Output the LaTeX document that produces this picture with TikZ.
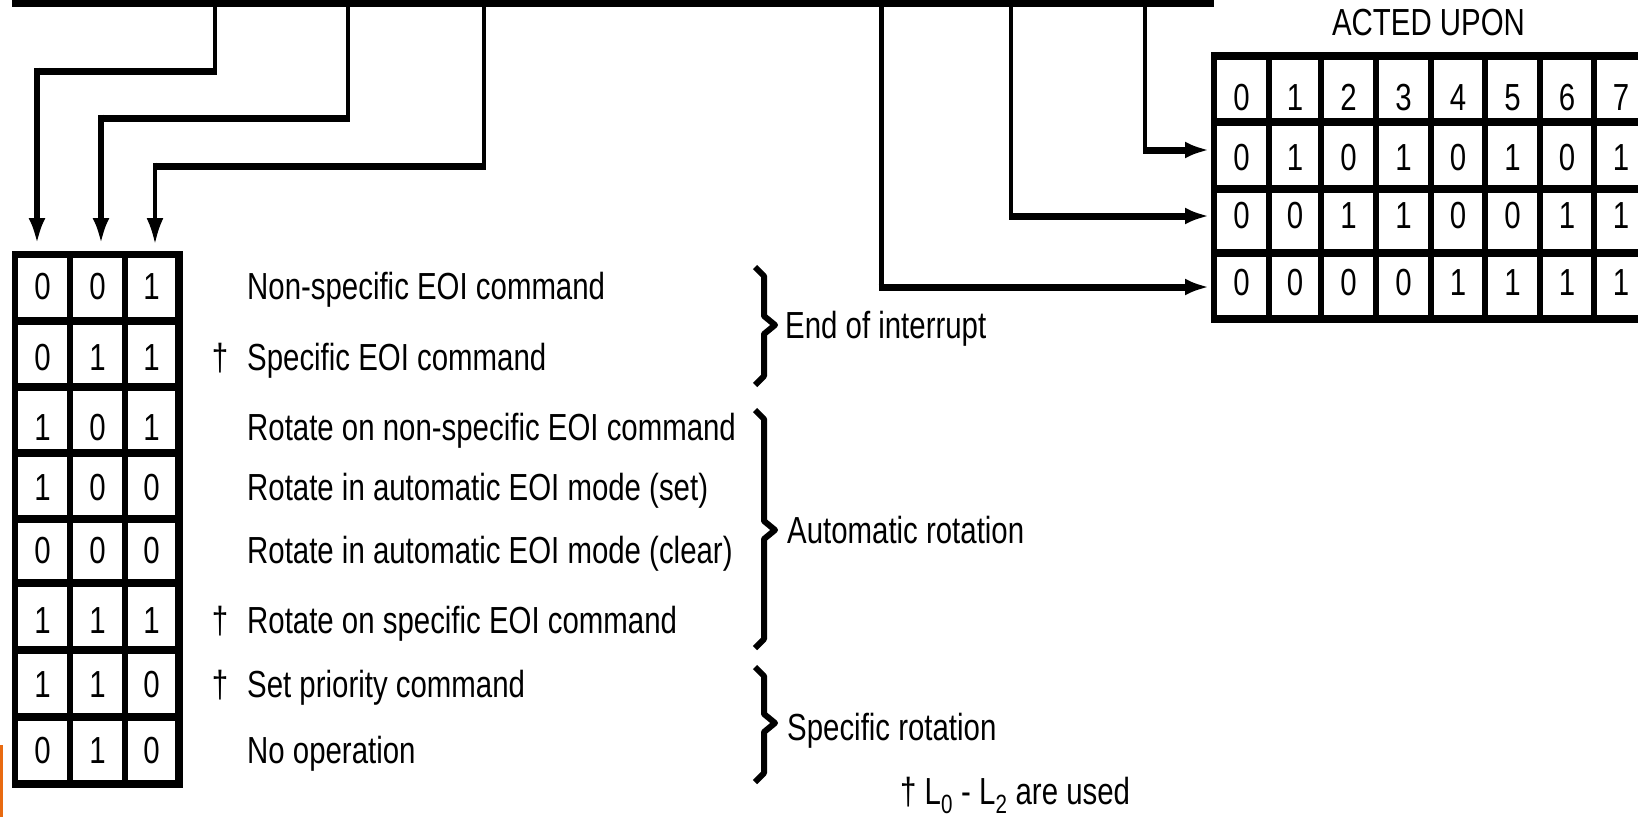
\documentclass[tikz,border=0pt]{standalone}
\usepackage{fontspec}
\setmainfont{Liberation Sans}[FakeStretch=0.78]
\usetikzlibrary{arrows.meta}
\definecolor{orangebar}{RGB}{232,106,16}
\begin{document}
\begin{tikzpicture}[x=1pt,y=-1pt,
  every node/.style={inner sep=0pt,font=\fontsize{37.7}{40}\selectfont},
  bus/.style={line width=7pt},
  thinw/.style={line width=3.4pt},
  midw/.style={line width=5pt},
  thickw/.style={line width=7pt,line join=miter},
  downw/.style={line width=6pt,line join=miter},
  tipdown/.style={-{Latex[length=26pt,width=17pt]}},
  tipright/.style={-{Latex[length=24pt,width=17pt]}},
  gridh/.style={line width=7.5pt},
  gridv/.style={line width=6pt},
  brace/.style={line width=6pt,line join=round},
  dig/.style={anchor=base},
  lbl/.style={anchor=base west},
  dag/.style={anchor=base},
]
\useasboundingbox (0,0) rectangle (1638,817);
\clip (0,0) rectangle (1638,817);

% orange edge
\fill[orangebar] (0,745) rectangle (3,817);

% top bus
\coordinate (busL) at (12,3.5);
\coordinate (busR) at (1214,3.5);
\draw[bus] (busL) -- (busR);

% connector coordinates
\coordinate (b1) at (215,3.5);
\coordinate (b2) at (348,3.5);
\coordinate (b3) at (484,3.5);
\coordinate (b4) at (881,3.5);
\coordinate (b5) at (1011,3.5);
\coordinate (b6) at (1145,3.5);
\coordinate (k1) at (215,71);
\coordinate (k2) at (348,118);
\coordinate (k3) at (484,166);
\coordinate (k4) at (881,287);
\coordinate (k5) at (1011,216);
\coordinate (k6) at (1145,150);
\coordinate (a1) at (37,244);
\coordinate (a2) at (101,244);
\coordinate (a3) at (155,244);
\coordinate (a4) at (1209,287);
\coordinate (a5) at (1209,216);
\coordinate (a6) at (1209,150);

% left connectors
\draw[thinw] (b1) -- ([yshift=-3.5pt]k1);
\draw[thickw] (k1) -- ([xshift=-3pt]k1 -| a1);
\draw[downw,tipdown] ([yshift=3.5pt]k1 -| a1) -- (a1);
\draw[thinw] (b2) -- ([yshift=-3.5pt]k2);
\draw[thickw] (k2) -- ([xshift=-3pt]k2 -| a2);
\draw[downw,tipdown] ([yshift=3.5pt]k2 -| a2) -- (a2);
\draw[thinw] (b3) -- ([yshift=-3.5pt]k3);
\draw[thickw] (k3) -- ([xshift=-1.7pt]k3 -| a3);
\draw[thinw,tipdown] ([yshift=3.5pt]k3 -| a3) -- (a3);

% right connectors
\draw[midw] (b4) -- ([yshift=-3.5pt]k4);
\draw[thickw,tipright] ([xshift=-2.5pt]k4) -- (a4);
\draw[thinw] (b5) -- ([yshift=-3.5pt]k5);
\draw[thickw,tipright] ([xshift=-1.7pt]k5) -- (a5);
\draw[thinw] (b6) -- ([yshift=-3.5pt]k6);
\draw[thickw,tipright] ([xshift=-1.7pt]k6) -- (a6);

% left table grid
\foreach \y in {254.5,321,387,453,519,583,650,717,784}
  \draw[gridh] (12,\y) -- (183,\y);
\draw[gridv] (15,251) -- (15,788);
\draw[gridv] (70,251) -- (70,788);
\draw[gridv] (125,251) -- (125,788);
\draw[line width=8pt] (178.5,251) -- (178.5,788);

% left table digits
\foreach \r/\y/\p/\q/\s in {1/299/0/0/1, 2/370/0/1/1, 3/440/1/0/1, 4/500/1/0/0,
                            5/563/0/0/0, 6/633/1/1/1, 7/697/1/1/0, 8/763/0/1/0} {
  \node[dig] (l\r a) at (42.5,\y) {\p};
  \node[dig] (l\r b) at (97.5,\y) {\q};
  \node[dig] (l\r c) at (151.5,\y) {\s};
}

% left descriptions
\node[lbl] (t1) at (247,299) {Non-specific EOI command};
\node[lbl] (t2) at (247,370) {Specific EOI command};
\node[lbl] (t3) at (247,440) {Rotate on non-specific EOI command};
\node[lbl] (t4) at (247,500) {Rotate in automatic EOI mode (set)};
\node[lbl] (t5) at (247,563) {Rotate in automatic EOI mode (clear)};
\node[lbl] (t6) at (247,633) {Rotate on specific EOI command};
\node[lbl] (t7) at (247,697) {Set priority command};
\node[lbl] (t8) at (247,763) {No operation};
\node[dag] (d2) at (220,370) {†};
\node[dag] (d6) at (220,633) {†};
\node[dag] (d7) at (220,697) {†};

% braces
\draw[brace] (755,267) -- (764,276) -- (764,316) -- (775,325) -- (764,334) -- (764,376) -- (755,385);
\draw[brace] (755,410) -- (764,419) -- (764,521) -- (775,530) -- (764,539) -- (764,639) -- (755,648);
\draw[brace] (755,667) -- (764,676) -- (764,714) -- (775,723) -- (764,732) -- (764,773) -- (755,782);
\node[lbl] (g1) at (785,338) {End of interrupt};
\node[lbl] (g2) at (787,543) {Automatic rotation};
\node[lbl] (g3) at (787,740) {Specific rotation};

% footnote
\node[lbl] (fn) at (900,804) {† L\textsubscript{0} - L\textsubscript{2} are used};

% right table
\node[dig] (acted) at (1428.5,35) {ACTED UPON};
\foreach \y in {55.5,121.5,188.5,252.5,319}
  \draw[line width=8pt] (1211,\y) -- (1660,\y);
\foreach \x in {1214,1269,1321,1376,1431,1485,1540,1594,1648}
  \draw[gridv] (\x,52) -- (\x,323);

\foreach \c/\x in {0/1241.5,1/1295,2/1348.5,3/1403.5,4/1458,5/1512.5,6/1567,7/1621}
  \node[dig] (h\c) at (\x,110) {\c};
\foreach \c/\x/\u/\v/\w in {0/1241.5/0/0/0, 1/1295/1/0/0, 2/1348.5/0/1/0, 3/1403.5/1/1/0,
                            4/1458/0/0/1, 5/1512.5/1/0/1, 6/1567/0/1/1, 7/1621/1/1/1} {
  \node[dig] (ra\c) at (\x,170) {\u};
  \node[dig] (rb\c) at (\x,228) {\v};
  \node[dig] (rc\c) at (\x,295) {\w};
}
\end{tikzpicture}
\end{document}
